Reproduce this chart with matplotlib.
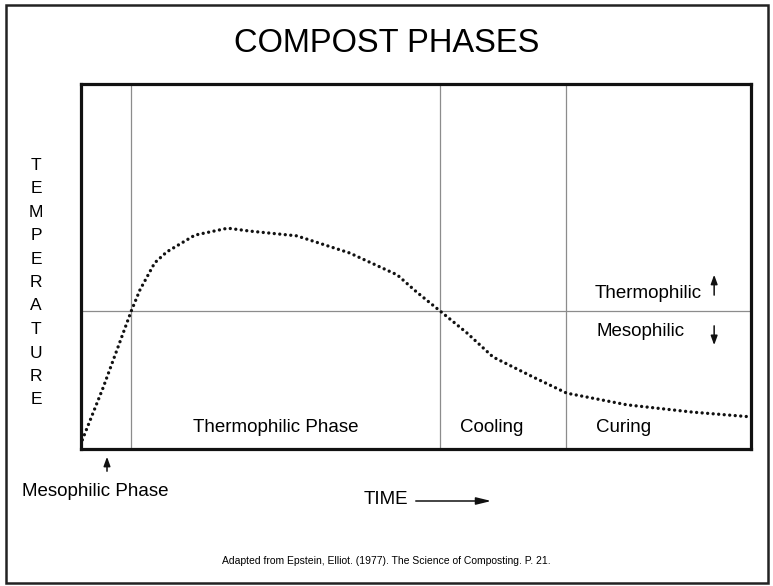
import matplotlib
matplotlib.use("Agg")
import matplotlib.pyplot as plt
from matplotlib.patches import Rectangle

plt.rcParams["font.family"] = ["Liberation Sans", "DejaVu Sans"]

# temperature curve (time 0-100, temperature 0-100, arbitrary units)
time = [0.2, 3.3, 5.8, 7.5, 8.8, 11.0, 12.8, 17.0, 21.9, 25.2, 32.2,
        40.1, 47.2, 50.1, 53.6, 57.6, 61.5, 67.5, 72.5, 81.5, 91.3, 100.0]
temperature = [2.5, 16.8, 29.3, 37.8, 43.6, 51.0, 54.0, 58.6, 60.5, 59.7, 58.4,
               53.7, 47.7, 43.0, 37.8, 31.8, 25.2, 19.7, 15.3, 12.1, 10.1, 8.8]

phase_bounds = [7.46, 53.6, 72.4]
thermo_limit = 37.8

phase_labels = ["Thermophilic Phase", "Cooling", "Curing"]
phase_label_x = [29.0, 61.3, 81.0]

fig = plt.figure(figsize=(7.73, 5.86), dpi=100)
ax = fig.add_axes([81 / 773, 1 - 449 / 586, 670 / 773, 365 / 586])
ax.set_xlim(0, 100)
ax.set_ylim(0, 100)
ax.set_xticks([])
ax.set_yticks([])
for sp in ax.spines.values():
    sp.set_linewidth(2.3)
    sp.set_color("#111111")

for b in phase_bounds:
    ax.axvline(b, color="#8c8c8c", lw=0.9, zorder=1)
ax.axhline(thermo_limit, color="#8c8c8c", lw=0.9, zorder=1)

ax.plot(time, temperature, color="#111111", lw=2.4,
        linestyle=(0, (0.01, 1.65)), dash_capstyle="round", zorder=3)

for lab, x in zip(phase_labels, phase_label_x):
    ax.text(x, 5.8, lab, ha="center", va="center", fontsize=13.5)

ax.text(76.7, 42.7, "Thermophilic", ha="left", va="center", fontsize=13.5)
ax.text(76.9, 32.3, "Mesophilic", ha="left", va="center", fontsize=13.5)
arrow_kw = dict(arrowstyle="-|>,head_width=0.2,head_length=0.55", color="#111111", lw=1.1)
ax.annotate("", xy=(94.5, 48.5), xytext=(94.5, 41.4), arrowprops=arrow_kw)
ax.annotate("", xy=(94.5, 27.7), xytext=(94.5, 34.5), arrowprops=arrow_kw)

# outside labels
fig.text(0.5, 1 - 44 / 586, "COMPOST PHASES", ha="center", va="center", fontsize=23.5)

for i, ch in enumerate("TEMPERATURE"):
    fig.text(36 / 773, 1 - (165 + i * 23.5) / 586, ch, ha="center", va="center", fontsize=12.5)

fig.text(22 / 773, 1 - 491 / 586, "Mesophilic Phase", ha="left", va="center", fontsize=13.5)
ax.annotate("", xy=(107 / 773, 1 - 454 / 586), xytext=(107 / 773, 1 - 474 / 586),
            xycoords="figure fraction", textcoords="figure fraction",
            arrowprops=arrow_kw, annotation_clip=False)

fig.text(364 / 773, 1 - 500 / 586, "TIME", ha="left", va="center", fontsize=13.5)
ax.annotate("", xy=(494 / 773, 1 - 501 / 586), xytext=(413 / 773, 1 - 501 / 586),
            xycoords="figure fraction", textcoords="figure fraction",
            arrowprops=dict(arrowstyle="-|>,head_width=0.22,head_length=0.9",
                            color="#111111", lw=1.1),
            annotation_clip=False)

fig.text(0.5, 1 - 561 / 586, "Adapted from Epstein, Elliot. (1977). The Science of Composting. P. 21.",
         ha="center", va="center", fontsize=7.5)

# outer frame
fig.patches.append(Rectangle((6 / 773, 3 / 586), 762 / 773, 578 / 586,
                             transform=fig.transFigure, fill=False,
                             edgecolor="#222222", lw=1.8))

fig.savefig("out.png", dpi=100)
